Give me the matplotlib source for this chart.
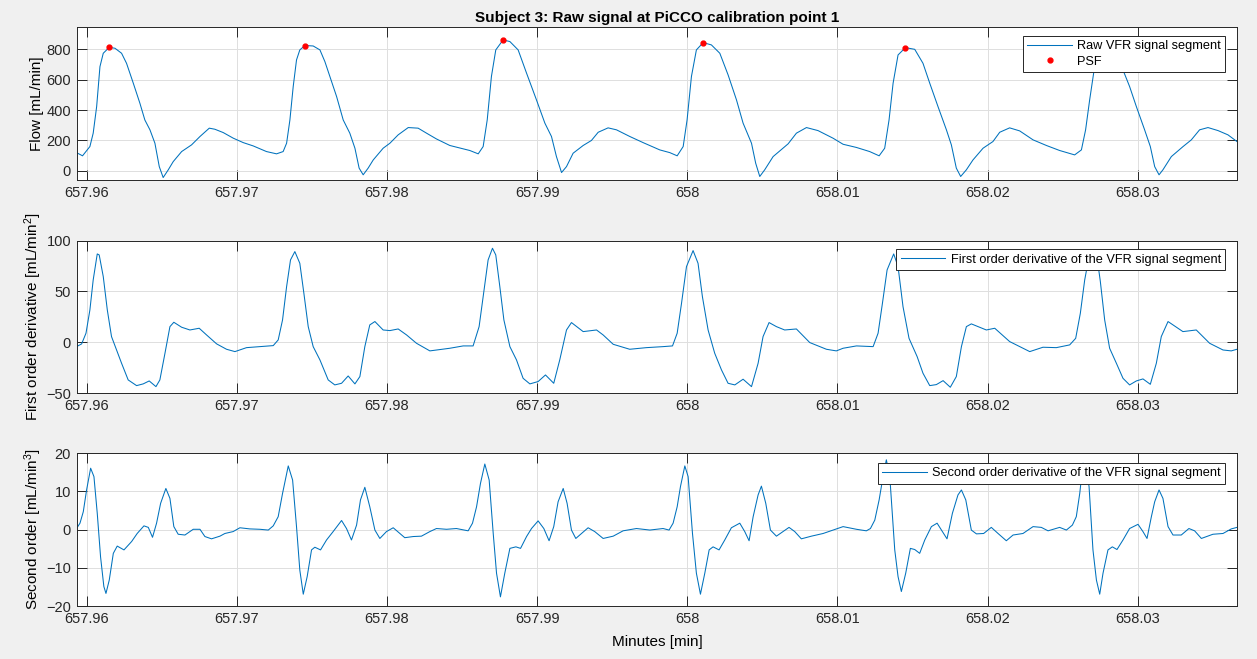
import numpy as np
import matplotlib
matplotlib.use('Agg')
import matplotlib.pyplot as plt

# MATLAB look: helvetica-like font, sub/superscripts in the same font
plt.rcParams['font.family'] = ['Liberation Sans', 'DejaVu Sans']
plt.rcParams['mathtext.default'] = 'regular'

# raw VFR signal [mL/min], time in minutes
flow_t = [657.95933, 657.95973, 657.96022, 657.96044, 657.96067, 657.96089, 657.96111, 657.96151,
          657.96189, 657.96233, 657.96266, 657.96311, 657.96355, 657.96388, 657.96422, 657.96455,
          657.96484, 657.96510, 657.96544, 657.96577, 657.96633, 657.96699, 657.96755, 657.96817,
          657.96854, 657.96910, 657.96977, 657.97043, 657.97110, 657.97198, 657.97265, 657.97309,
          657.97332, 657.97354, 657.97376, 657.97398, 657.97420, 657.97454, 657.97509, 657.97554,
          657.97587, 657.97620, 657.97665, 657.97709, 657.97753, 657.97787, 657.97815, 657.97842,
          657.97875, 657.97909, 657.97975, 657.98020, 657.98075, 657.98142, 657.98208, 657.98264,
          657.98330, 657.98419, 657.98552, 657.98608, 657.98641, 657.98668, 657.98696, 657.98725,
          657.98774, 657.98819, 657.98874, 657.98930, 657.98996, 657.99052, 657.99096, 657.99129,
          657.99163, 657.99196, 657.99240, 657.99307, 657.99362, 657.99407, 657.99473, 657.99529,
          657.99618, 657.99706, 657.99817, 657.99884, 657.99933, 657.99973, 657.99999, 658.00028,
          658.00061, 658.00106, 658.00161, 658.00217, 658.00272, 658.00328, 658.00372, 658.00428,
          658.00456, 658.00483, 658.00516, 658.00572, 658.00672, 658.00727, 658.00794, 658.00871,
          658.00971, 658.01038, 658.01127, 658.01215, 658.01278, 658.01315, 658.01344, 658.01371,
          658.01404, 658.01453, 658.01515, 658.01570, 658.01615, 658.01670, 658.01726, 658.01759,
          658.01792, 658.01821, 658.01859, 658.01903, 658.01970, 658.02036, 658.02081, 658.02147,
          658.02214, 658.02303, 658.02392, 658.02480, 658.02580, 658.02625, 658.02653, 658.02680,
          658.02713, 658.02747, 658.02780, 658.02824, 658.02869, 658.02902, 658.02946, 658.02991,
          658.03046, 658.03084, 658.03113, 658.03142, 658.03168, 658.03224, 658.03302, 658.03357,
          658.03412, 658.03468, 658.03535, 658.03601, 658.03661]
flow_v = [120, 99, 160, 248, 423, 686, 774, 813,
          807, 774, 708, 577, 445, 335, 270, 182,
          28, -44, 7, 61, 127, 171, 226, 281,
          274, 252, 215, 186, 164, 127, 112, 127,
          182, 335, 555, 730, 796, 825, 822, 796,
          719, 621, 489, 335, 248, 149, 18, -26,
          18, 72, 149, 182, 237, 285, 281, 248,
          210, 167, 134, 112, 160, 335, 621, 796,
          862, 851, 796, 643, 467, 314, 226, 94,
          -11, 28, 116, 167, 200, 254, 283, 270,
          226, 186, 138, 120, 99, 160, 335, 621,
          796, 844, 829, 774, 632, 467, 314, 182,
          50, -37, 7, 94, 178, 248, 285, 265,
          215, 175, 154, 127, 99, 149, 335, 577,
          763, 811, 800, 708, 577, 423, 270, 171,
          18, -37, 7, 72, 149, 193, 254, 283,
          263, 204, 167, 134, 105, 138, 270, 467,
          686, 830, 850, 820, 750, 664, 555, 423,
          270, 160, 28, -26, 7, 94, 160, 204,
          270, 285, 265, 237, 193]

# peak systolic flow points
psf_t = [657.96151, 657.97454, 657.98774, 658.00106, 658.01453]
psf_v = [813, 825, 862, 844, 811]

# first order derivative [mL/min^2]
d1_t = [657.95933, 657.95967, 657.95996, 657.96022, 657.96044, 657.96071, 657.96084, 657.96111,
        657.96138, 657.96166, 657.96200, 657.96233, 657.96277, 657.96333, 657.96377, 657.96417,
        657.96462, 657.96488, 657.96522, 657.96555, 657.96581, 657.96633, 657.96688, 657.96750,
        657.96799, 657.96866, 657.96932, 657.96988, 657.97065, 657.97154, 657.97243, 657.97276,
        657.97305, 657.97332, 657.97358, 657.97387, 657.97420, 657.97447, 657.97476, 657.97509,
        657.97554, 657.97609, 657.97653, 657.97698, 657.97742, 657.97787, 657.97820, 657.97853,
        657.97886, 657.97920, 657.97975, 657.98020, 657.98075, 657.98131, 657.98197, 657.98286,
        657.98419, 657.98508, 657.98574, 657.98614, 657.98641, 657.98674, 657.98703, 657.98725,
        657.98752, 657.98779, 657.98819, 657.98863, 657.98907, 657.98952, 657.99007, 657.99056,
        657.99111, 657.99151, 657.99196, 657.99229, 657.99307, 657.99396, 657.99440, 657.99507,
        657.99617, 657.99728, 657.99839, 657.99902, 657.99933, 657.99962, 657.99995, 658.00039,
        658.00072, 658.00101, 658.00139, 658.00183, 658.00228, 658.00272, 658.00317, 658.00372,
        658.00428, 658.00472, 658.00505, 658.00545, 658.00594, 658.00649, 658.00727, 658.00816,
        658.00927, 658.00993, 658.01038, 658.01127, 658.01238, 658.01271, 658.01300, 658.01331,
        658.01375, 658.01404, 658.01437, 658.01477, 658.01531, 658.01570, 658.01615, 658.01659,
        658.01704, 658.01752, 658.01792, 658.01826, 658.01859, 658.01892, 658.01992, 658.02048,
        658.02147, 658.02281, 658.02369, 658.02458, 658.02547, 658.02587, 658.02618, 658.02647,
        658.02680, 658.02713, 658.02725, 658.02751, 658.02780, 658.02813, 658.02858, 658.02902,
        658.02946, 658.02991, 658.03035, 658.03084, 658.03124, 658.03157, 658.03202, 658.03301,
        658.03390, 658.03479, 658.03568, 658.03623, 658.03661]
d1_v = [-4.3, -1.6, 8.9, 31.8, 61.4, 87.0, 86.0, 64.7,
        31.8, 5.6, -7.6, -20.7, -37.1, -42.7, -41.0, -38.1,
        -43.7, -37.1, -10.8, 15.4, 19.7, 14.8, 12.1, 13.8,
        7.2, -1.6, -6.9, -9.2, -5.3, -4.3, -3.3, 2.3,
        22.0, 54.8, 81.1, 89.3, 77.8, 48.3, 15.4, -4.3,
        -17.4, -37.1, -42.0, -40.4, -33.2, -41.0, -33.8, -4.3,
        17.1, 20.4, 12.1, 11.5, 13.1, 7.2, -1.0, -8.5,
        -5.9, -3.6, -3.6, 15.4, 45.0, 81.1, 92.6, 86.0,
        54.8, 22.0, -4.3, -17.4, -35.5, -41.0, -38.7, -32.2,
        -40.4, -17.4, 12.1, 19.4, 10.5, 12.1, 7.2, -2.0,
        -6.9, -5.3, -4.3, -3.6, 8.9, 38.4, 74.5, 90.3,
        77.8, 45.0, 12.1, -10.8, -27.2, -40.4, -42.0, -36.4,
        -43.7, -20.7, 5.6, 19.4, 15.4, 12.1, 13.1, -0.3,
        -6.9, -8.5, -5.9, -3.6, -4.3, 8.9, 38.4, 71.2,
        87.0, 74.5, 35.1, 3.9, -14.1, -30.5, -42.7, -41.7,
        -37.8, -44.3, -33.8, -4.3, 15.4, 18.1, 12.1, 13.8,
        0.7, -9.2, -4.9, -5.3, -2.6, 3.9, 28.6, 61.4,
        87.7, 90.9, 88.0, 60.0, 22.0, -5.9, -20.7, -35.5,
        -42.0, -38.1, -36.1, -41.4, -20.7, 5.6, 20.4, 10.5,
        12.1, -1.0, -7.6, -8.5, -6.9]

# second order derivative [mL/min^3]
d2_t = [657.95933, 657.95956, 657.95978, 657.96000, 657.96027, 657.96049, 657.96071, 657.96093,
        657.96115, 657.96129, 657.96151, 657.96178, 657.96204, 657.96249, 657.96300, 657.96337,
        657.96382, 657.96411, 657.96439, 657.96466, 657.96493, 657.96528, 657.96555, 657.96581,
        657.96610, 657.96655, 657.96710, 657.96755, 657.96788, 657.96832, 657.96888, 657.96921,
        657.96976, 657.97021, 657.97087, 657.97154, 657.97210, 657.97243, 657.97276, 657.97305,
        657.97343, 657.97372, 657.97398, 657.97420, 657.97443, 657.97469, 657.97498, 657.97520,
        657.97558, 657.97598, 657.97642, 657.97698, 657.97731, 657.97764, 657.97798, 657.97824,
        657.97853, 657.97886, 657.97920, 657.97953, 657.97997, 657.98042, 657.98086, 657.98119,
        657.98175, 657.98230, 657.98286, 657.98330, 657.98397, 657.98463, 657.98541, 657.98570,
        657.98597, 657.98623, 657.98652, 657.98681, 657.98708, 657.98730, 657.98756, 657.98785,
        657.98819, 657.98859, 657.98890, 657.98930, 657.98963, 657.99007, 657.99045, 657.99080,
        657.99111, 657.99140, 657.99174, 657.99200, 657.99229, 657.99258, 657.99296, 657.99340,
        657.99384, 657.99440, 657.99507, 657.99573, 657.99662, 657.99751, 657.99839, 657.99879,
        657.99906, 657.99933, 657.99955, 657.99984, 658.00006, 658.00035, 658.00061, 658.00088,
        658.00117, 658.00146, 658.00172, 658.00212, 658.00250, 658.00294, 658.00350, 658.00383,
        658.00412, 658.00439, 658.00472, 658.00494, 658.00523, 658.00554, 658.00594, 658.00638,
        658.00678, 658.00716, 658.00760, 658.00827, 658.00905, 658.00971, 658.01038, 658.01127,
        658.01193, 658.01220, 658.01249, 658.01278, 658.01304, 658.01326, 658.01349, 658.01382,
        658.01404, 658.01426, 658.01455, 658.01486, 658.01515, 658.01548, 658.01582, 658.01626,
        658.01664, 658.01699, 658.01730, 658.01766, 658.01803, 658.01826, 658.01855, 658.01892,
        658.01926, 658.01974, 658.02025, 658.02070, 658.02125, 658.02170, 658.02236, 658.02303,
        658.02358, 658.02403, 658.02480, 658.02525, 658.02565, 658.02591, 658.02614, 658.02636,
        658.02658, 658.02676, 658.02702, 658.02725, 658.02747, 658.02769, 658.02802, 658.02831,
        658.02862, 658.02902, 658.02946, 658.03002, 658.03035, 658.03062, 658.03091, 658.03113,
        658.03142, 658.03168, 658.03202, 658.03235, 658.03290, 658.03341, 658.03379, 658.03424,
        658.03501, 658.03568, 658.03623, 658.03661]
d2_v = [0.3, 1.7, 4.7, 10.4, 16.1, 13.9, 4.3, -7.1,
        -14.9, -16.7, -13.2, -6.2, -4.3, -5.3, -3.1, -1.0,
        1.0, 0.6, -2.0, 1.7, 6.9, 10.8, 8.2, 0.8,
        -1.2, -1.4, 0.1, 0.1, -1.8, -2.4, -1.7, -1.0,
        -0.5, 0.5, 0.2, 0.1, -0.1, 1.0, 3.4, 9.5,
        16.7, 13.0, 0.8, -10.6, -16.9, -12.3, -5.3, -4.6,
        -5.3, -2.7, -0.5, 2.4, 0.3, -2.7, 1.2, 7.8,
        11.1, 6.0, -0.1, -2.3, -0.5, 0.5, -1.0, -2.1,
        -1.8, -1.7, -0.5, 0.3, 0.1, 0.3, -0.3, 1.7,
        6.0, 12.1, 17.2, 13.0, -1.0, -11.4, -17.6, -11.4,
        -4.9, -4.5, -4.9, -1.8, 0.3, 2.3, 0.3, -2.9,
        0.8, 7.3, 10.8, 6.9, -0.1, -2.3, -1.0, 0.5,
        -0.5, -2.3, -1.7, -0.3, 0.3, -0.1, 0.3, -0.1,
        1.7, 6.0, 11.3, 16.7, 13.9, -1.0, -11.4, -16.9,
        -11.4, -5.3, -4.5, -5.3, -2.7, 0.5, 1.7, -0.5,
        -2.9, 3.4, 9.1, 11.4, 6.9, -0.1, -1.7, -0.5,
        0.6, -0.5, -2.4, -1.7, -1.0, -0.1, 0.8, 0.1,
        -0.3, 0.3, 2.5, 7.8, 13.9, 18.3, 13.9, -5.3,
        -12.3, -16.2, -11.4, -4.9, -5.2, -6.2, -2.7, 0.8,
        1.7, -0.5, -2.4, 4.3, 9.1, 10.4, 7.8, -0.1,
        -1.1, -1.0, 0.6, -1.0, -2.9, -1.4, -1.0, 0.8,
        0.6, -0.3, 0.6, -0.1, 1.2, 3.4, 9.5, 17.4,
        15.6, 11.3, -5.3, -13.2, -16.9, -11.4, -5.3, -4.5,
        -5.2, -2.7, 0.3, 1.4, -0.5, -2.3, 3.4, 7.3,
        10.4, 8.2, 0.8, -1.4, -1.4, 0.3, -0.3, -2.3,
        -1.2, -1.0, 0.2, 0.6]

x_ticks = [657.96, 657.97, 657.98, 657.99, 658.00, 658.01, 658.02, 658.03]
x_tick_labels = ['657.96', '657.97', '657.98', '657.99', '658', '658.01', '658.02', '658.03']

line_col = '#0072BD'
dark = '#262626'

fig = plt.figure(figsize=(12.57, 6.59), dpi=100, facecolor='#f0f0f0')
ax1 = fig.add_axes([0.061, 0.7269, 0.9233, 0.2317])
ax2 = fig.add_axes([0.061, 0.4036, 0.9233, 0.2311])
ax3 = fig.add_axes([0.061, 0.0804, 0.9233, 0.2317])


def style(ax, ylim, yticks):
    ax.set_xlim(657.95934, 658.03663)
    ax.set_ylim(*ylim)
    ax.set_xticks(x_ticks)
    ax.set_xticklabels(x_tick_labels)
    ax.set_yticks(yticks)
    ax.grid(True, color='#dfdfdf', lw=0.7)
    ax.set_axisbelow(True)
    # MATLAB ticks point inwards on all four sides
    ax.tick_params(direction='in', top=True, right=True, length=7.5, width=0.7,
                   color=dark, labelcolor=dark, labelsize=10.5, pad=4)
    for s in ax.spines.values():
        s.set_color(dark)
        s.set_linewidth(0.7)


def add_legend(ax, top):
    leg = ax.legend(loc='upper right', bbox_to_anchor=(0.9897, top), borderaxespad=0,
                    fontsize=9.2, fancybox=False, framealpha=1, edgecolor=dark,
                    handlelength=3.5, handletextpad=0.4, labelspacing=0.25, borderpad=0.35)
    leg.get_frame().set_linewidth(0.7)
    return leg


# raw signal with the PSF points
ax1.plot(flow_t, flow_v, color=line_col, lw=0.75, label='Raw VFR signal segment')
ax1.plot(psf_t, psf_v, '.', color='red', ms=7, label='PSF')
style(ax1, (-60, 945), [0, 200, 400, 600, 800])
ax1.set_ylabel('Flow [mL/min]', fontsize=11)
ax1.yaxis.set_label_coords(-0.028, 0.5)
ax1.set_title('Subject 3: Raw signal at PiCCO calibration point 1', fontsize=11,
              fontweight='bold', pad=3.5)
add_legend(ax1, 0.943)

# first derivative
ax2.plot(d1_t, d1_v, color=line_col, lw=0.75, label='First order derivative of the VFR signal segment')
style(ax2, (-50, 100), [-50, 0, 50, 100])
ax2.set_ylabel('First order derivative [mL/min$^2$]', fontsize=11)
ax2.yaxis.set_label_coords(-0.028, 0.5)
add_legend(ax2, 0.9455)

# second derivative
ax3.plot(d2_t, d2_v, color=line_col, lw=0.75, label='Second order derivative of the VFR signal segment')
style(ax3, (-20, 20), [-20, -10, 0, 10, 20])
ax3.set_ylabel('Second order [mL/min$^3$]', fontsize=11)
ax3.yaxis.set_label_coords(-0.028, 0.5)
ax3.set_xlabel('Minutes [min]', fontsize=11, labelpad=7)
add_legend(ax3, 0.938)

fig.savefig('out.png', dpi=100, facecolor=fig.get_facecolor())
